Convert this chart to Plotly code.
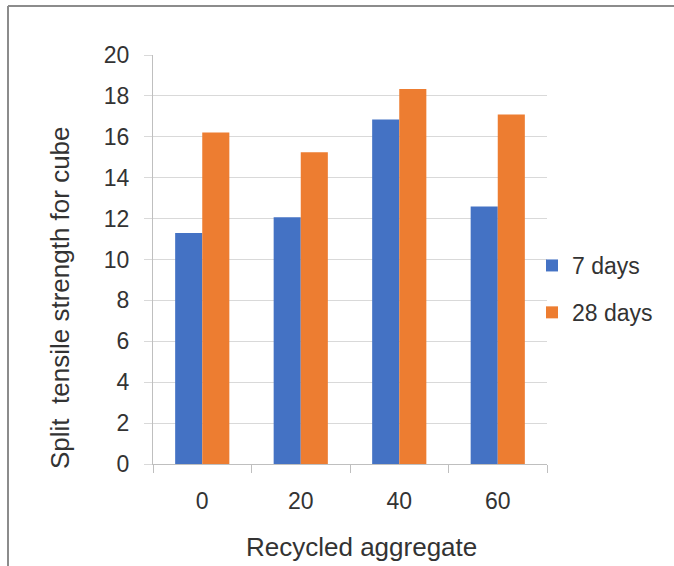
import plotly.graph_objects as go

categories = ["0", "20", "40", "60"]
days7 = [11.30, 12.07, 16.85, 12.59]
days28 = [16.21, 15.24, 18.34, 17.09]
series_names = ["7 days", "28 days"]
y_ticks = [0, 2, 4, 6, 8, 10, 12, 14, 16, 18, 20]

FONT = "Liberation Sans"
TXT = "#333333"
W, H = 674, 566
ML, MR, MT, MB = 153, 127, 55, 102
PW, PH = W - ML - MR, H - MT - MB

def px(x):
    return (x - ML) / PW

def py(y):
    return (H - MB - y) / PH

fig = go.Figure()
fig.add_trace(go.Bar(x=categories, y=days7, name=series_names[0],
                     marker=dict(color="#4472C4", line=dict(width=0)),
                     legendgroup="a"))
fig.add_trace(go.Bar(x=categories, y=days28, name=series_names[1],
                     marker=dict(color="#ED7D31", line=dict(width=0)),
                     legendgroup="b"))

fig.update_layout(
    width=W, height=H,
    margin=dict(l=ML, r=MR, t=MT, b=MB, pad=0),
    paper_bgcolor="white", plot_bgcolor="white",
    barmode="group", bargap=0.45, bargroupgap=0,
    font=dict(family=FONT, color=TXT, size=23),
    showlegend=True,
    legend=dict(x=px(532), y=py(244), xanchor="left", yanchor="top",
                font=dict(family=FONT, size=23, color=TXT),
                traceorder="grouped", tracegroupgap=14,
                bgcolor="rgba(0,0,0,0)", itemwidth=30),
    xaxis=dict(type="category", showgrid=False, showline=True,
               linecolor="#bfbfbf", linewidth=1,
               ticks="outside", ticklen=8, tickcolor="#bfbfbf",
               tickson="boundaries", ticklabelstandoff=16,
               tickfont=dict(family=FONT, size=23, color=TXT)),
    yaxis=dict(range=[0, 20], tickvals=y_ticks, showgrid=True,
               gridcolor="#d9d9d9", gridwidth=1,
               showline=True, linecolor="#bfbfbf", linewidth=1,
               ticks="outside", ticklen=8, tickcolor="#d9d9d9",
               ticklabelstandoff=10, zeroline=False,
               tickfont=dict(family=FONT, size=23, color=TXT)),
    annotations=[
        dict(text="Recycled aggregate", xref="paper", yref="paper",
             x=px(361), y=py(547), xanchor="center", yanchor="middle",
             showarrow=False, font=dict(family=FONT, size=26, color=TXT)),
        dict(text="Split\u00a0 tensile strength for cube", xref="paper", yref="paper",
             x=px(60), y=py(298), xanchor="center", yanchor="middle",
             textangle=-90, showarrow=False,
             font=dict(family=FONT, size=26, color=TXT)),
    ],
    shapes=[
        dict(type="line", xref="paper", yref="paper",
             x0=px(8), x1=px(8), y0=py(6), y1=py(H + 2),
             line=dict(color="#8c8c8c", width=2)),
        dict(type="line", xref="paper", yref="paper",
             x0=px(8), x1=px(W + 2), y0=py(6), y1=py(6),
             line=dict(color="#8c8c8c", width=2)),
    ],
)

fig.write_html("out.html")
